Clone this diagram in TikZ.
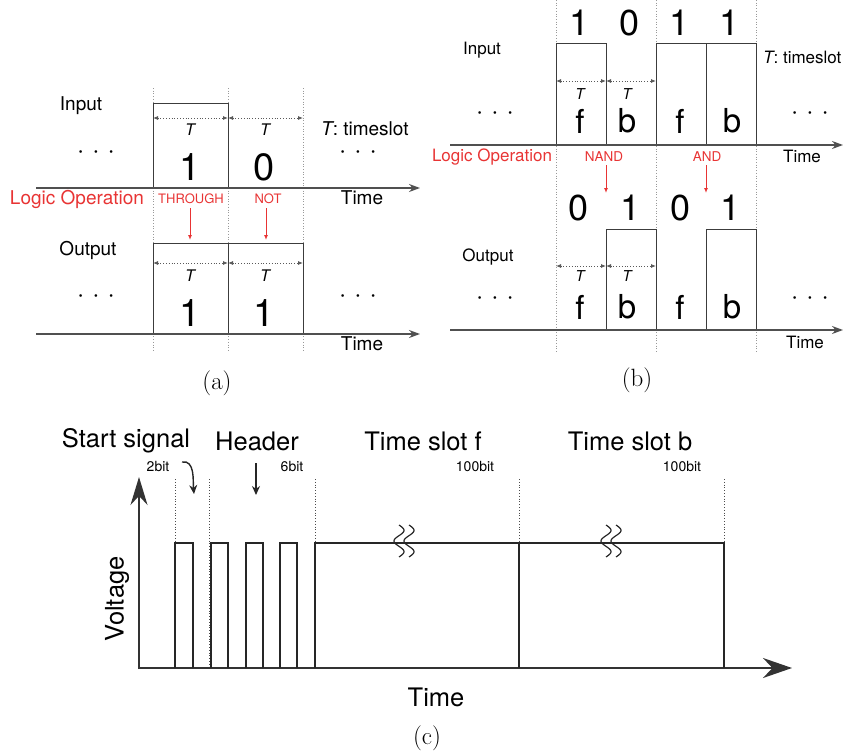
\documentclass[tikz,border=0pt]{standalone}
\usepackage{fontspec}
\usetikzlibrary{arrows.meta}
\newfontfamily\hv{TeX Gyre Heros}
\newcommand\fsz[1]{\fontsize{#1}{#1}\selectfont}
\definecolor{lred}{RGB}{232,52,52}
\definecolor{sigc}{RGB}{60,60,60}
\definecolor{axc}{RGB}{80,80,80}
\begin{document}
\begin{tikzpicture}[x=1pt,y=-1pt,
  every node/.style={inner sep=0pt,font=\hv},
  sig/.style={draw=sigc,line width=1pt},
  axis/.style={draw=axc,line width=1.6pt,-{Stealth[length=11pt,width=8pt]}},
  grid/.style={draw=gray!80,line width=0.7pt,dotted},
  tarr/.style={draw=gray!70!black,line width=0.8pt,dotted,{Latex[length=5pt,width=4pt]}-{Latex[length=5pt,width=4pt]}},
  redarr/.style={draw=lred,line width=1pt,-{Latex[length=5pt,width=4pt]}},
  csig/.style={draw=black!85,line width=2.7pt,line join=miter},
  cax/.style={draw=black!80,line width=1.8pt},
  lbla/.style={font=\hv\fsz{19}},
  lblb/.style={font=\hv\fsz{17}},
  biga/.style={font=\hv\fsz{38}},
  bigb/.style={font=\hv\fsz{36}},
  fb/.style={font=\hv\fsz{33}},
  ta/.style={font=\hv\itshape\fsz{16}},
  tb/.style={font=\hv\itshape\fsz{15}},
  dots/.style={font=\hv\fsz{26}},
  opa/.style={font=\hv\fsz{13},text=lred},
  opb/.style={font=\hv\fsz{13.5},text=lred},
  cl/.style={font=\hv\fsz{25.5}},
  bits/.style={font=\hv\fsz{14}},
  captxt/.style={font=\rmfamily\fsz{25}}
]
\useasboundingbox (0,0) rectangle (844,755);

% ================= (a) =================
\foreach \xx in {153,228,303} \draw[grid] (\xx,88) -- (\xx,350);
\draw[sig] (153,188) -- (153,103) -- (228,103) -- (228,188);
\draw[axis] (36,188) -- (420,188);
\draw[tarr] (153,118) -- (228,118);
\draw[tarr] (228,118) -- (303,118);
\node[ta] (aT1) at (190,130) {T};
\node[ta] (aT2) at (265,130) {T};
\node[biga] (ai1) at (190,167) {1};
\node[biga] (ai2) at (264,167) {0};
\node[lbla] (ain) at (81,106) {Input};
\node[dots] (ad1) at (96,155) {·\kern8pt·\kern8pt·};
\node[dots] (ad2) at (358,155) {·\kern8pt·\kern8pt·};
\node[lbla,anchor=west] (ats) at (321,129) {\itshape T\upshape: timeslot};
\node[lbla] (atime1) at (362,198) {Time};
\node[lbla,text=lred] (alogic) at (77,199) {Logic Operation};
\node[opa] (athr) at (191,199) {THROUGH};
\node[opa] (anot) at (268,199) {NOT};
\draw[redarr] (190,208) -- (190,240);
\draw[redarr] (266,208) -- (266,240);
\draw[sig] (153,334) -- (153,243) -- (303,243) -- (303,334);
\draw[sig] (228,243) -- (228,334);
\draw[axis] (36,334) -- (420,334);
\node[lbla] (aout) at (88,250) {Output};
\draw[tarr] (153,263) -- (228,263);
\draw[tarr] (228,263) -- (303,263);
\node[ta] (aT3) at (190,276) {T};
\node[ta] (aT4) at (265,276) {T};
\node[biga] (ao1) at (190,313) {1};
\node[biga] (ao2) at (264,313) {1};
\node[dots] (ad3) at (96,299) {·\kern8pt·\kern8pt·};
\node[dots] (ad4) at (358,299) {·\kern8pt·\kern8pt·};
\node[lbla] (atime2) at (362,344) {Time};
\node[captxt] (capa) at (217,383) {(a)};

% ================= (b) =================
\foreach \xx in {556,656,756} \draw[grid] (\xx,0) -- (\xx,353);
\draw[sig] (556,145) -- (556,43) -- (606,43) -- (606,145);
\draw[sig] (656,145) -- (656,43) -- (756,43) -- (756,145);
\draw[sig] (706,43) -- (706,145);
\draw[axis] (450,145) -- (843,145);
\node[bigb] (bi1) at (580,23) {1};
\node[bigb] (bi2) at (630,23) {0};
\node[bigb] (bi3) at (680,23) {1};
\node[bigb] (bi4) at (730,23) {1};
\node[lblb] (bin) at (482,50) {Input};
\draw[tarr] (556,81) -- (606,81);
\draw[tarr] (606,81) -- (656,81);
\node[tb] (bT1) at (580,94) {T};
\node[tb] (bT2) at (627,94) {T};
\node[fb] (bf1) at (580,121) {f};
\node[fb] (bb1) at (627,121) {b};
\node[fb] (bf2) at (680,121) {f};
\node[fb] (bb2) at (732,121) {b};
\node[dots] (bd1) at (495,116) {·\kern8pt·\kern8pt·};
\node[dots] (bd2) at (810,116) {·\kern8pt·\kern8pt·};
\node[lblb,anchor=west] (bts) at (763,57) {\itshape T\upshape: timeslot};
\node[lblb,text=lred] (blogic) at (492,157) {Logic Operation};
\node[opb] (bnand) at (604,157) {NAND};
\node[opb] (band) at (707,157) {AND};
\draw[redarr] (606,165) -- (606,193);
\draw[redarr] (706,165) -- (706,193);
\node[lblb] (btime1) at (802,156) {Time};
\node[bigb] (bo1) at (579,208) {0};
\node[bigb] (bo2) at (631,208) {1};
\node[bigb] (bo3) at (681,208) {0};
\node[bigb] (bo4) at (731,208) {1};
\draw[sig] (606,330) -- (606,229) -- (656,229) -- (656,330);
\draw[sig] (706,330) -- (706,229) -- (756,229) -- (756,330);
\draw[axis] (450,330) -- (843,330);
\node[lblb] (bout) at (488,257) {Output};
\draw[tarr] (556,266) -- (606,266);
\draw[tarr] (606,266) -- (656,266);
\node[tb] (bT3) at (580,276) {T};
\node[tb] (bT4) at (627,276) {T};
\node[fb] (bf3) at (580,307) {f};
\node[fb] (bb3) at (627,307) {b};
\node[fb] (bf4) at (680,307) {f};
\node[fb] (bb4) at (732,307) {b};
\node[dots] (bd3) at (495,301) {·\kern8pt·\kern8pt·};
\node[dots] (bd4) at (810,301) {·\kern8pt·\kern8pt·};
\node[lblb] (btime2) at (805,342) {Time};
\node[captxt] (capb) at (637,380) {(b)};

% ================= (c) =================
\foreach \xx/\yy in {175/543,209/668,315/543,519/543,724/543}
  \draw[draw=gray!60!black,line width=0.8pt,dotted] (\xx,479) -- (\xx,\yy);
\draw[cax,-{Stealth[length=28pt,width=17pt]}] (139,669) -- (139,477);
\draw[cax,-{Stealth[length=29pt,width=20pt]}] (138,668) -- (792,668);
\draw[csig] (175,668) -- (175,543) -- (193,543) -- (193,668);
\draw[csig] (211,668) -- (211,543) -- (228,543) -- (228,668);
\draw[csig] (246,668) -- (246,543) -- (263,543) -- (263,668);
\draw[csig] (280,668) -- (280,543) -- (297,543) -- (297,668);
\draw[csig] (315,668) -- (315,543) -- (724,543) -- (724,668);
\draw[csig] (519,543) -- (519,668);
\foreach \xx in {399,409,606,616}
  \draw[line width=1.2pt,black!85] plot[domain=0:1,samples=40,smooth,variable=\t] ({\xx+5*sin(540*\t)},{525+32*\t});
\node[cl] (cstart) at (126,441) {Start signal};
\node[cl] (chead) at (257,441) {Header};
\node[cl] (cslf) at (423,441) {Time slot f};
\node[cl] (cslb) at (630,441) {Time slot b};
\node[bits] (c2) at (158,466) {2bit};
\node[bits] (c6) at (292,466) {6bit};
\node[bits] (c100a) at (475,466) {100bit};
\node[bits] (c100b) at (682,466) {100bit};
\coordinate (s1) at (182,462);
\coordinate (s2) at (194,494);
\coordinate (h1) at (256,463);
\coordinate (h2) at (256,495);
\draw[line width=1.4pt,black!85,-{Stealth[length=9pt,width=8pt]}] (s1) to[out=10,in=95] (s2);
\draw[line width=1.4pt,black!85,-{Stealth[length=9pt,width=8pt]}] (h1) -- (h2);
\node[cl,rotate=90] (cvolt) at (117,599) {Voltage};
\node[cl] (ctime) at (436,697) {Time};
\node[captxt] (capc) at (427,738) {(c)};
\end{tikzpicture}
\end{document}
